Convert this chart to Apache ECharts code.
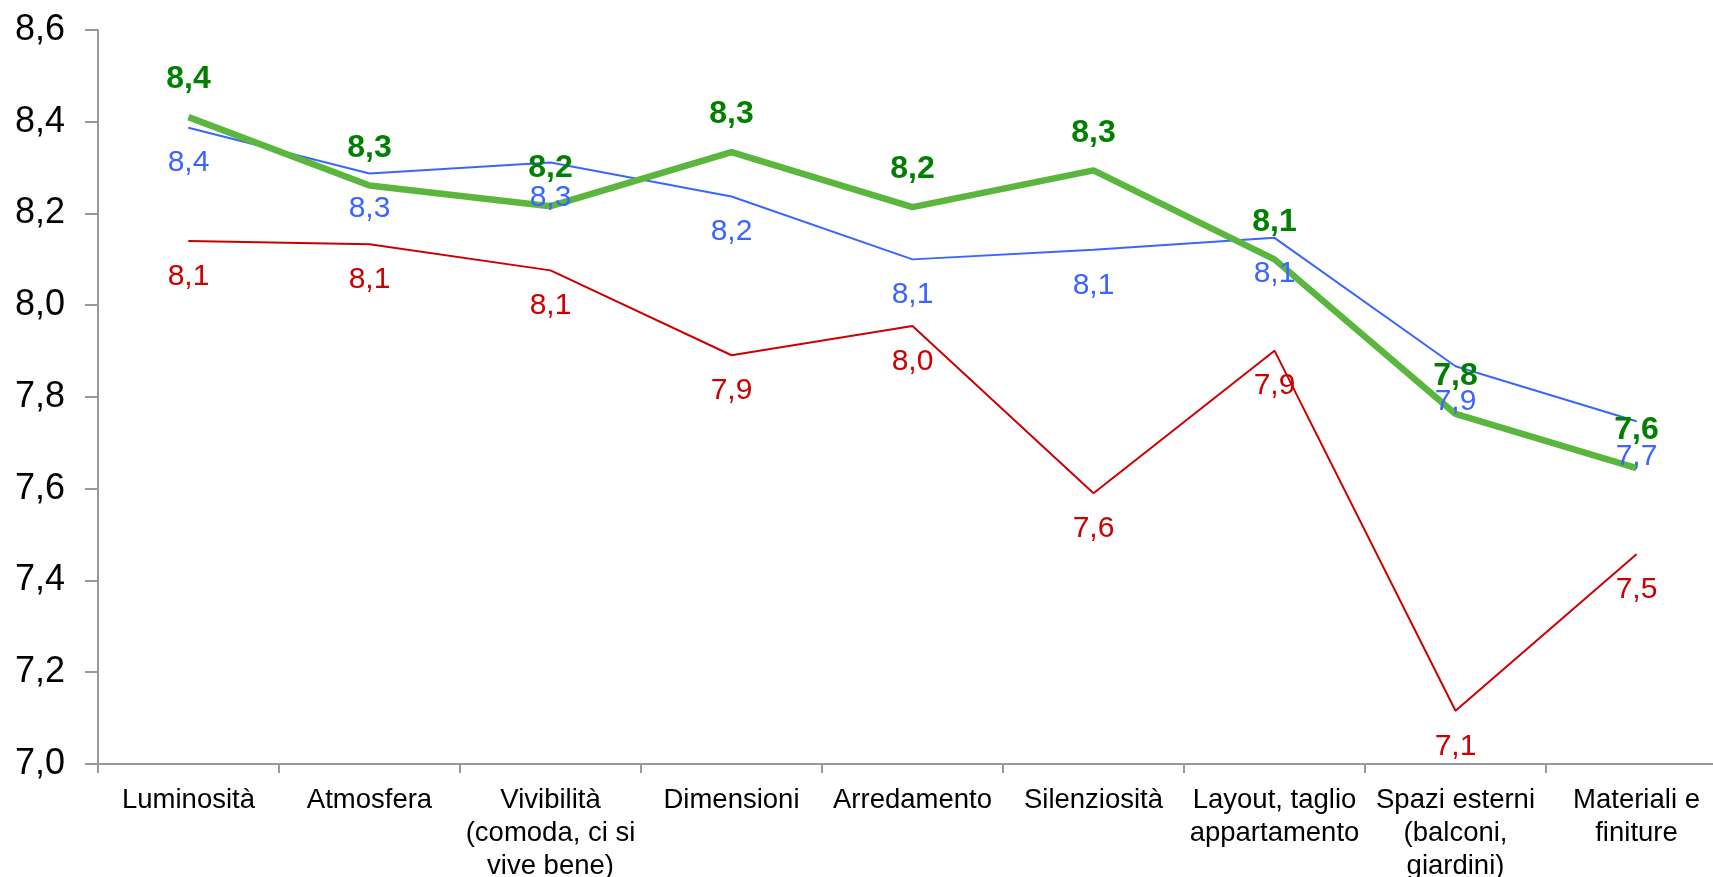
<!DOCTYPE html>
<html>
<head>
<meta charset="utf-8">
<script src="https://cdn.jsdelivr.net/npm/echarts@6/dist/echarts.min.js"></script>
<style>
  html, body { margin: 0; padding: 0; background: #fff; }
  #chart { width: 1713px; height: 877px; }
</style>
</head>
<body>
<div id="chart"></div>
<script>
const categories = [
    'Luminosità',
    'Atmosfera',
    'Vivibilità\n(comoda, ci si\nvive bene)',
    'Dimensioni',
    'Arredamento',
    'Silenziosità',
    'Layout, taglio\nappartamento',
    'Spazi esterni\n(balconi,\ngiardini)',
    'Materiali e\nfiniture'
]
const redValues = [8.140, 8.133, 8.076, 7.891, 7.955, 7.590, 7.901, 7.116, 7.457]
const blueValues = [8.387, 8.287, 8.311, 8.237, 8.100, 8.121, 8.147, 7.867, 7.747]
const greenValues = [8.410, 8.261, 8.216, 8.334, 8.214, 8.294, 8.100, 7.763, 7.645]

const FONT = '"Liberation Sans", Arial, sans-serif'
const fmt = v => v.toFixed(1).replace('.', ',')

const chart = echarts.init(document.getElementById('chart'))

// labels sit on (invisible) symbols, so keep a tiny symbol on every point
const lineSeries = (name, data, color, width, label) => ({
    name: name,
    type: 'line',
    data: data,
    symbol: 'circle',
    symbolSize: 1,
    showAllSymbol: true,
    itemStyle: { color: color },
    lineStyle: { color: color, width: width },
    labelLayout: { hideOverlap: false },
    label: Object.assign({
        show: true,
        fontFamily: FONT,
        formatter: p => fmt(p.value)
    }, label)
})

const option = {
    animation: false,
    grid: {
        left: 98,
        right: -14,
        top: 30,
        bottom: 113,
        containLabel: false,
        outerBoundsMode: 'none'
    },
    xAxis: {
        type: 'category',
        data: categories,
        boundaryGap: true,
        axisLine: { lineStyle: { color: '#999999', width: 2 } },
        axisTick: { show: true, length: 9, lineStyle: { color: '#999999', width: 2 } },
        axisLabel: {
            interval: 0,
            color: '#000',
            fontFamily: FONT,
            fontSize: 27.5,
            lineHeight: 33,
            margin: 20
        }
    },
    yAxis: {
        type: 'value',
        min: 7.0,
        max: 8.6,
        interval: 0.2,
        splitLine: { show: false },
        axisLine: { show: true, lineStyle: { color: '#999999', width: 2 } },
        axisTick: { show: true, length: 13, lineStyle: { color: '#999999', width: 2 } },
        axisLabel: {
            color: '#000',
            fontFamily: FONT,
            fontSize: 36,
            margin: 33,
            formatter: fmt
        }
    },
    series: [
        lineSeries('red', redValues, '#CC0000', 2, {
            position: 'bottom', distance: 20, color: '#CC0000', fontSize: 30
        }),
        lineSeries('blue', blueValues, '#3A66FF', 2, {
            position: 'bottom', distance: 20, color: '#3A66FF', fontSize: 30
        }),
        lineSeries('green', greenValues, '#5AB63C', 6.5, {
            position: 'top', distance: 21, color: '#008000', fontSize: 32, fontWeight: 'bold'
        })
    ]
}
chart.setOption(option)
</script>
</body>
</html>
